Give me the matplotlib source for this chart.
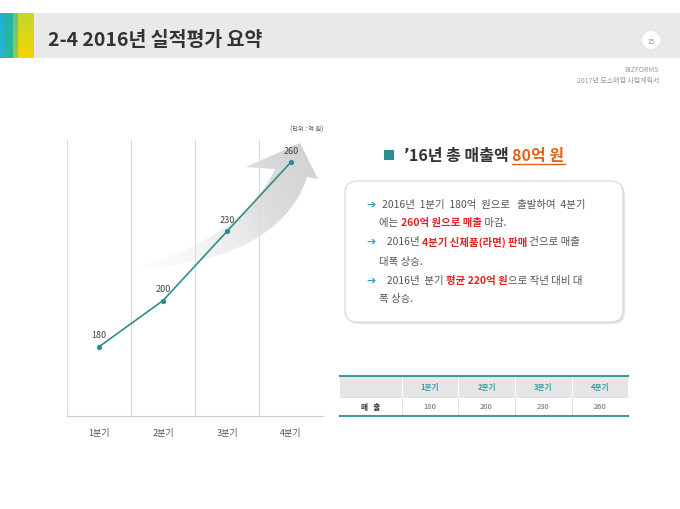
import numpy as np
import matplotlib
matplotlib.use("Agg")
import matplotlib.pyplot as plt
from matplotlib.path import Path
from matplotlib.patches import PathPatch, FancyBboxPatch, Rectangle, Circle

plt.rcParams['font.family'] = ['Noto Sans CJK KR', 'DejaVu Sans']

# 데이터
quarters = ['1분기', '2분기', '3분기', '4분기']
sales = [180, 200, 230, 260]
table_head = ['1분기', '2분기', '3분기', '4분기']
table_row_label = '매   출'

title = '2-4 2016년 실적평가 요약'
teal = '#2e8e8e'

fig = plt.figure(figsize=(6.8, 5.1), dpi=100)
fig.patch.set_facecolor('white')

# 배경용 축 (픽셀 좌표)
bg = fig.add_axes([0, 0, 1, 1])
bg.set_autoscale_on(False)
bg.set_xlim(0, 680)
bg.set_ylim(510, 0)
bg.axis('off')

# 상단 헤더 띠
bg.add_patch(Rectangle((0, 14), 680, 45, color='#e9e9e9', lw=0))
stripes = [(0, 5, '#1db0d2', '#27b6c9'), (5, 13, '#22b3a8', '#2bb89a'),
           (13, 18, '#6fc27a', '#8dc95c'), (18, 34, '#c2d82e', '#f6d400')]
for x0, x1, c0, c1 in stripes:
    grad = np.linspace(0, 1, 50)[:, None]
    a = np.array(matplotlib.colors.to_rgb(c0))
    b = np.array(matplotlib.colors.to_rgb(c1))
    img = a[None, None, :] * (1 - grad[..., None]) + b[None, None, :] * grad[..., None]
    img = np.repeat(img, 2, axis=1)
    bg.imshow(img, extent=(x0, x1, 59, 14), aspect='auto', zorder=1)
bg.text(48, 40, title, fontsize=14, fontweight='bold', color='#333333', va='center', ha='left')
bg.add_patch(Circle((651, 41), 9, color='white', lw=0))
bg.text(651, 41.5, '15', fontsize=4.5, color='#888888', ha='center', va='center')
bg.text(659, 70, 'BIZFORMS', fontsize=5, color='#999999', ha='right', va='center')
bg.text(659, 81, '2017년 도소매업 사업계획서', fontsize=5, color='#999999', ha='right', va='center')

# 곡선 화살표 (그라데이션)
verts = [(125, 270), (220, 270), (290, 235), (307, 178),
         (318, 180), (300, 144), (246, 168), (275, 170),
         (255, 215), (200, 255), (125, 270), (125, 270)]
codes = [Path.MOVETO, Path.CURVE4, Path.CURVE4, Path.CURVE4,
         Path.LINETO, Path.LINETO, Path.LINETO, Path.LINETO,
         Path.CURVE4, Path.CURVE4, Path.CURVE4, Path.CLOSEPOLY]
arrow_path = Path(verts, codes)
clip = PathPatch(arrow_path, facecolor='none', edgecolor='none', transform=bg.transData)
bg.add_patch(clip)
xs = np.linspace(120, 330, 210)
ys = np.linspace(135, 280, 145)
X, Y = np.meshgrid(xs, ys)
d = np.array([300 - 125, 150 - 270], dtype=float)
t = ((X - 125) * d[0] + (Y - 270) * d[1]) / (d @ d)
t = np.clip(t, 0, 1)
rgba = np.zeros(X.shape + (4,))
shade = 0.83 + 0.13 * (1 - t)
rgba[..., 0] = shade
rgba[..., 1] = shade
rgba[..., 2] = shade
rgba[..., 3] = np.clip(t * 1.4, 0, 1)
im = bg.imshow(rgba, extent=(120, 330, 280, 135), aspect='auto', zorder=2)
im.set_clip_path(clip)

# 꺾은선 차트
ax = fig.add_axes([67 / 680, (510 - 417) / 510, 256 / 680, 277 / 510])
ax.patch.set_alpha(0)
x = np.arange(len(quarters))
ax.set_xlim(-0.5, 3.5)
ax.set_ylim(150, 270)
for v in [-0.5, 0.5, 1.5, 2.5]:
    ax.axvline(v, color='#dcdcdc', lw=0.8, zorder=0)
ax.plot(x, sales, color=teal, lw=1.2, marker='o', markersize=2.8, zorder=3)
for xi, v in zip(x, sales):
    ax.annotate(str(v), (xi, v), xytext=(0, 12), textcoords='offset pixels',
                ha='center', va='center', fontsize=6.5, color='#444444')
for s in ['top', 'right', 'left']:
    ax.spines[s].set_visible(False)
ax.spines['bottom'].set_color('#cccccc')
ax.spines['bottom'].set_linewidth(0.8)
ax.set_yticks([])
ax.set_xticks(x)
ax.set_xticklabels(quarters, fontsize=6.5, color='#555555')
ax.tick_params(axis='x', length=0, pad=9)
bg.text(323, 130, '(단위 : 억 원)', fontsize=4.5, color='#555555', ha='right', va='center')

# 오른쪽 제목
bg.add_patch(Rectangle((384, 151), 10, 10, color=teal, lw=0))
renderer = fig.canvas.get_renderer()


def draw_runs(x0, y0, runs, size, underline_idx=None):
    xc = x0
    for i, run in enumerate(runs):
        txt, col, wt = run[:3]
        fam = run[3] if len(run) > 3 else None
        kw = {'family': fam} if fam else {}
        tt = bg.text(xc, y0, txt, fontsize=size, color=col, fontweight=wt,
                     ha='left', va='center', zorder=5, **kw)
        w = tt.get_window_extent(renderer).width
        if underline_idx is not None and i == underline_idx:
            bg.plot([xc, xc + w], [y0 + 9, y0 + 9], color=col, lw=1.0, zorder=5)
        xc += w


draw_runs(403, 156, [('’', '#333333', 'bold', 'DejaVu Sans'),
                     ('16년 총 매출액 ', '#333333', 'bold'),
                     ('80억 원', '#e3621c', 'bold')], 11.5, underline_idx=2)

# 설명 박스
bg.add_patch(FancyBboxPatch((347, 184), 278, 141, boxstyle='round,pad=0,rounding_size=12',
                            facecolor='#e6e6e6', edgecolor='none', zorder=3))
bg.add_patch(FancyBboxPatch((345, 182), 278, 141, boxstyle='round,pad=0,rounding_size=12',
                            facecolor='white', edgecolor='#d6d6d6', lw=0.8, zorder=4))
gray = '#555555'
red = '#e02424'
fs = 7.5
lines = [
    (205, True, [('2016년  1분기  180억  원으로   출발하여  4분기', gray, 'normal')]),
    (223, False, [('에는 ', gray, 'normal'), ('260억 원으로 매출', red, 'bold'),
                  (' 마감.', gray, 'normal')]),
    (242, True, [('  2016년 ', gray, 'normal'), ('4분기 신제품(라면) 판매', red, 'bold'),
                 (' 건으로 매출', gray, 'normal')]),
    (262, False, [('대폭 상승.', gray, 'normal')]),
    (281, True, [('  2016년  분기 ', gray, 'normal'), ('평균 220억 원', red, 'bold'),
                 ('으로 작년 대비 대', gray, 'normal')]),
    (299, False, [('폭 상승.', gray, 'normal')]),
]
for y0, has_arrow, runs in lines:
    if has_arrow:
        bg.text(366, y0, '➔', fontsize=8, color='#2a9fd6', ha='left', va='center',
                fontweight='bold', zorder=5)
    draw_runs(382 if has_arrow else 379, y0, runs, fs)

# 표
cols = [340, 402, 458, 515, 572, 628]
bg.add_patch(Rectangle((340, 377), 288, 21, color='#e6e6e6', lw=0, zorder=3))
bg.plot([340, 628], [377, 377], color='#3a9c9c', lw=1.5, zorder=5)
bg.plot([340, 628], [417, 417], color='#3a9c9c', lw=1.5, zorder=5)
bg.plot([340, 628], [398, 398], color='#dddddd', lw=0.6, zorder=4)
for cx in cols[1:-1]:
    bg.plot([cx, cx], [377, 398], color='white', lw=0.8, zorder=4)
    bg.plot([cx, cx], [398, 417], color='#dddddd', lw=0.6, zorder=4)
for i, h in enumerate(table_head):
    cx = (cols[i + 1] + cols[i + 2]) / 2
    bg.text(cx, 387.5, h, fontsize=5.5, color='#3aa0a0', fontweight='bold',
            ha='center', va='center', zorder=6)
    bg.text(cx, 407.5, str(sales[i]), fontsize=5.5, color='#666666',
            ha='center', va='center', zorder=6)
bg.text((cols[0] + cols[1]) / 2, 407.5, table_row_label, fontsize=5.5, color='#333333',
        fontweight='bold', ha='center', va='center', zorder=6)

bg.set_xlim(0, 680)
bg.set_ylim(510, 0)
fig.savefig('out.png', dpi=100, facecolor='white')
